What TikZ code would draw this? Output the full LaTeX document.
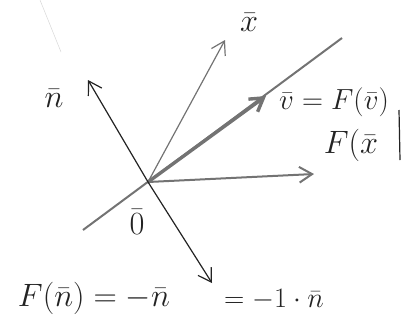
\documentclass[tikz,border=0pt]{standalone}
\usepackage{tikz}
\usetikzlibrary{arrows.meta}
\definecolor{pencil}{RGB}{115,115,115}
\definecolor{ink}{RGB}{35,35,35}
\definecolor{faint}{RGB}{215,215,215}

\begin{document}
\begin{tikzpicture}[x=1pt,y=-1pt,
        lbl/.style={font=\fontsize{24.88}{30}\selectfont,scale=1.3,text=ink,inner sep=1pt},
        vec/.style={-{Straight Barb[length=4.5mm,width=5.5mm]},line width=1.2pt},
        grayvec/.style={vec,draw=pencil},
        blackvec/.style={vec,draw=ink}]
        \useasboundingbox (0,0) rectangle (411,327);
        \coordinate (o) at (148,182);
        \coordinate (lineA) at (83,230);
        \coordinate (lineB) at (342,38);
        \coordinate (v) at (266,96);
        \coordinate (x) at (225,40);
        \coordinate (n) at (88,80);
        \coordinate (mn) at (212,283);
        \coordinate (fx) at (314,174);
        \coordinate (brTop) at (399,110);
        \coordinate (brBot) at (400,160);
        \coordinate (fA) at (40,0);
        \coordinate (fB) at (61,52);
        \draw[faint,line width=0.5pt] (fA) -- (fB);
        \draw[pencil,line width=2pt] (lineA) -- (lineB);
        \draw[grayvec,line width=3.4pt] (o) -- (v);
        \draw[grayvec] (o) -- (x);
        \draw[grayvec,line width=2pt] (o) -- (fx);
        \draw[blackvec] (o) -- (n);
        \draw[blackvec] (o) -- (mn);
        \draw[ink,line width=1.2pt] (brTop) -- (brBot);
        \node[lbl] (xlab) at (249,22) {$\bar{x}$};
        \node[lbl] (nlab) at (54,98) {$\bar{n}$};
        \node[lbl] (olab) at (137,222) {$\bar{0}$};
        \node[lbl,scale=0.9] (vlab) at (334,102) {$\bar{v}=F(\bar{v})$};
        \node[lbl] (fxlab) at (351,145) {$F(\bar{x}$};
        \node[lbl] (fnlab) at (94,298) {$F(\bar{n})=-\bar{n}$};
        \node[lbl,scale=0.87] (eqlab) at (274,300) {$=-1\cdot\bar{n}$};
      \end{tikzpicture}
\end{document}
